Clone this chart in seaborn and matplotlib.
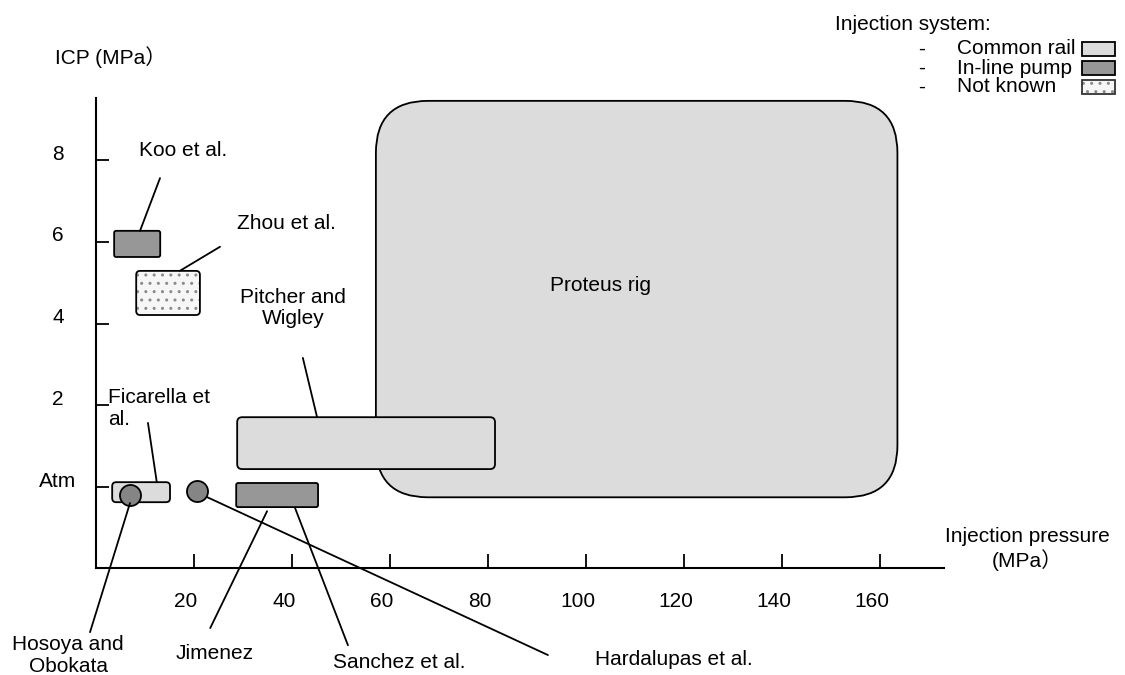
import matplotlib
matplotlib.use("Agg")
import matplotlib.pyplot as plt
import matplotlib.transforms as mtransforms
from matplotlib.patches import FancyBboxPatch, Rectangle
import seaborn as sns

sns.set_style("white")
plt.rcParams["font.family"] = ["Liberation Sans", "Noto Sans CJK JP", "DejaVu Sans"]
plt.rcParams["font.size"] = 15
plt.rcParams["text.color"] = "black"
plt.rcParams["xtick.color"] = "black"
plt.rcParams["ytick.color"] = "black"
plt.rcParams["axes.labelcolor"] = "black"

# ---- data ----
x_ticks = [20, 40, 60, 80, 100, 120, 140, 160]
y_ticks = [0, 2, 4, 6, 8]
y_tick_labels = ["Atm", "2", "4", "6", "8"]

# regions: injection pressure range (x) vs ICP range (y)
rect_names = ["Proteus rig", "Pitcher and\nWigley", "Jimenez", "Ficarella et\nal.",
              "Koo et al.", "Zhou et al."]
rect_x0 = [57.1, 28.8, 28.6, 3.3, 3.7, 8.2]
rect_x1 = [163.5, 81.4, 45.3, 15.1, 13.1, 21.2]
rect_y0 = [-0.25, 0.44, -0.49, -0.37, 5.63, 4.21]
rect_y1 = [9.45, 1.71, 0.10, 0.12, 6.27, 5.29]
rect_system = ["Common rail", "Common rail", "In-line pump", "Common rail",
               "In-line pump", "Not known"]

circle_names = ["Hosoya and\nObokata", "Hardalupas et al."]
circle_x = [6.9, 20.6]
circle_y = [-0.2, -0.1]

# labels and leader lines (start near label, end at region)
label_text = ["Koo et al.", "Zhou et al.", "Pitcher and\nWigley", "Ficarella et\nal.",
              "Hosoya and\nObokata", "Jimenez", "Sanchez et al.", "Hardalupas et al.",
              "Proteus rig"]
label_x = [17.8, 38.8, 40.2, 2.45, -5.7, 24.1, 61.8, 117.8, 102.9]
label_y = [8.23, 6.46, 4.38, 1.92, -4.12, -4.06, -4.28, -4.23, 4.94]
label_ha = ["center", "center", "center", "left", "center", "center", "center",
            "center", "center"]
lead_x0 = [13.06, 25.3, 42.2, 10.6, 6.94, 34.9, 40.6, 22.65]
lead_y0 = [7.56, 5.88, 3.16, 1.57, -0.39, -0.59, -0.51, -0.245]
lead_x1 = [8.98, 17.1, 45.1, 12.4, -1.22, 23.3, 51.4, 92.2]
lead_y1 = [6.27, 5.29, 1.71, 0.12, -3.55, -3.45, -3.87, -4.11]

legend_labels = ["Common rail", "In-line pump", "Not known"]

# ---- styles ----
fill = {"Common rail": "#dcdcdc", "In-line pump": "#979797", "Not known": "#f6f6f6"}
corner_px = [52, 5, 2, 4, 2, 4]
PX_X = 4.9      # pixels per MPa on the x axis
PX_Y = 40.875   # pixels per y unit
aspect = PX_X / PX_Y

fig = plt.figure(figsize=(11.25, 6.75), dpi=100)
ax = fig.add_axes([96 / 1125, 107 / 675, 848 / 1125, 470 / 675])
ax.set_xlim(0, 173)
ax.set_ylim(-1.98, 9.52)
sns.despine(ax=ax)
for s in ["left", "bottom"]:
    ax.spines[s].set_linewidth(1.5)
    ax.spines[s].set_color("black")

for i, name in enumerate(rect_names):
    sysname = rect_system[i]
    box = dict(boxstyle=f"round,pad=0,rounding_size={corner_px[i] / PX_X}",
               mutation_aspect=aspect)
    xy = (rect_x0[i], rect_y0[i])
    w = rect_x1[i] - rect_x0[i]
    h = rect_y1[i] - rect_y0[i]
    if sysname == "Not known":
        ax.add_patch(FancyBboxPatch(xy, w, h, facecolor=fill[sysname],
                                    edgecolor="#8a8a8a", hatch="..", lw=0,
                                    zorder=2 + i, **box))
        ax.add_patch(FancyBboxPatch(xy, w, h, facecolor="none", edgecolor="black",
                                    lw=1.3, zorder=2 + i, **box))
    else:
        ax.add_patch(FancyBboxPatch(xy, w, h, facecolor=fill[sysname],
                                    edgecolor="black", lw=1.3, zorder=2 + i, **box))

sns.scatterplot(x=circle_x, y=circle_y, s=230, color="#858585", edgecolor="black",
                linewidth=1.3, ax=ax, zorder=10, legend=False, clip_on=False)

for x0, y0, x1, y1 in zip(lead_x0, lead_y0, lead_x1, lead_y1):
    ax.plot([x0, x1], [y0, y1], color="black", lw=1.3, clip_on=False, zorder=11)

for t, x, y, ha in zip(label_text, label_x, label_y, label_ha):
    ax.text(x, y, t, ha=ha, va="center", fontsize=15, clip_on=False, zorder=12,
            linespacing=1.15)

# ticks
ax.set_xticks(x_ticks)
ax.set_yticks(y_ticks)
ax.set_yticklabels(y_tick_labels)
ax.tick_params(axis="x", direction="in", length=10, width=1.3, color="black",
               labelcolor="black", pad=17, labelsize=15, bottom=True)
ax.tick_params(axis="y", direction="in", length=9, width=1.3, color="black",
               labelcolor="black", pad=27.4, labelsize=15, left=True)
dx = mtransforms.ScaledTranslation(-8 / 100, 0, fig.dpi_scale_trans)
dy = mtransforms.ScaledTranslation(0, 8 / 100, fig.dpi_scale_trans)
for lab in ax.get_xticklabels():
    lab.set_transform(lab.get_transform() + dx)
for lab in ax.get_yticklabels():
    lab.set_horizontalalignment("center")
    lab.set_transform(lab.get_transform() + dy)

# axis titles
fig.text(55 / 1125, 1 - 57 / 675, "ICP (MPa\uff09", ha="left", va="center", fontsize=15)
fig.text(1027 / 1125, 1 - 549 / 675, "Injection pressure\n(MPa\uff09", ha="center",
         va="center", fontsize=15, linespacing=1.15)

# legend
fig.text(835 / 1125, 1 - 25 / 675, "Injection system:", ha="left", va="center",
         fontsize=15)
for k, lab in enumerate(legend_labels):
    yc = 49 + 19 * k
    fig.text(918 / 1125, 1 - yc / 675, "-", ha="left", va="center", fontsize=15)
    fig.text(957 / 1125, 1 - yc / 675, lab, ha="left", va="center", fontsize=15)
    rxy = (1082 / 1125, 1 - (yc + 7) / 675)
    rw, rh = 33 / 1125, 14 / 675
    if lab == "Not known":
        fig.patches.append(Rectangle(rxy, rw, rh, transform=fig.transFigure,
                                     facecolor=fill[lab], edgecolor="#8a8a8a",
                                     lw=0, hatch=".."))
        fig.patches.append(Rectangle(rxy, rw, rh, transform=fig.transFigure,
                                     facecolor="none", edgecolor="#333333", lw=1.3))
    else:
        fig.patches.append(Rectangle(rxy, rw, rh, transform=fig.transFigure,
                                     facecolor=fill[lab], edgecolor="black", lw=1.3))

fig.savefig("out.png", dpi=100)
